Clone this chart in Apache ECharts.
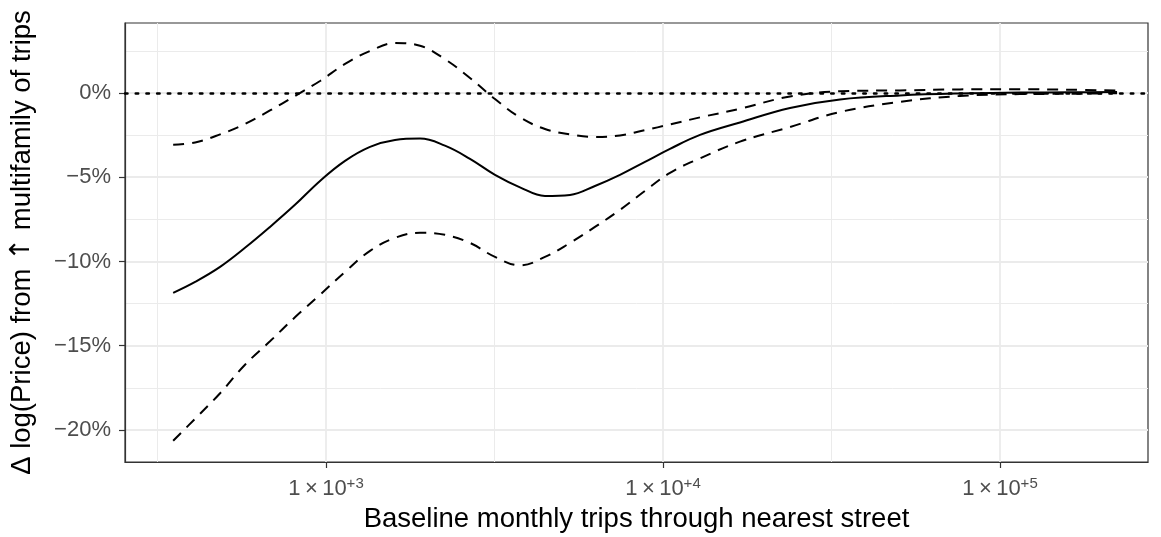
<!DOCTYPE html>
<html lang="en">
<head>
    <meta charset="UTF-8">
    <title>Price effect by baseline trips</title>
    <style>
        html, body { margin: 0; padding: 0; background: #fff; }
        #main { width: 1161px; height: 537px; }
    </style>
</head>
<body>
<div id="main"></div>
<script src="https://cdn.jsdelivr.net/npm/echarts@6.0.0/dist/echarts.min.js"></script>
<script>
    // baseline monthly trips (x, log scale)
    var trips = [352, 409, 485, 575, 682, 809, 960, 1139, 1351, 1602, 1901, 2254, 2675, 3173, 3764,
        4465, 5297, 6283, 7454, 8843, 10490, 12880, 16920, 23820, 33520, 50500, 76080, 114600, 161300, 222500];
    // point estimate, % change
    var estimate = [-11.86, -11.21, -10.32, -9.19, -7.95, -6.64, -5.22, -4.03, -3.20, -2.79, -2.71, -3.13, -3.91, -4.86, -5.60,
        -6.11, -6.05, -5.52, -4.86, -4.09, -3.32, -2.49, -1.75, -0.89, -0.39, -0.15, -0.03, 0.02, 0.04, 0.06];
    // upper band
    var upper = [-3.08, -2.94, -2.46, -1.84, -1.04, -0.18, 0.71, 1.72, 2.49, 2.96, 2.80, 2.00, 0.89, -0.36, -1.45,
        -2.14, -2.46, -2.61, -2.52, -2.21, -1.87, -1.45, -0.94, -0.21, 0.10, 0.15, 0.21, 0.22, 0.19, 0.14];
    // lower band
    var lower = [-20.64, -19.33, -17.82, -16.13, -14.74, -13.31, -11.98, -10.62, -9.37, -8.60, -8.30, -8.42, -8.90, -9.73, -10.23,
        -9.73, -8.90, -7.95, -6.94, -5.81, -4.74, -3.88, -2.89, -2.02, -1.13, -0.53, -0.18, -0.07, -0.05, -0.02];

    var xMajor = [3, 4, 5];
    var xMinor = [2.5, 3.5, 4.5];
    var yMajor = [-20, -15, -10, -5, 0];
    var yMinor = [-17.5, -12.5, -7.5, -2.5, 2.5];

    var xMin = 2.4036, xMax = 5.4392;
    var yMin = -21.90, yMax = 4.15;

    var font = "'Liberation Sans', Arial, Helvetica, sans-serif";

    function toPairs(vals) {
        var out = [];
        for (var i = 0; i < trips.length; i++) {
            out.push([Math.log10(trips[i]), vals[i]]);
        }
        return out;
    }

    function minorAxis(values, pos, lo, hi) {
        return {
            type: 'value', gridIndex: 0, position: pos, min: lo, max: hi,
            axisLine: {show: false},
            axisTick: {show: false, customValues: values},
            axisLabel: {show: false, customValues: values},
            splitLine: {show: true, lineStyle: {color: '#ebebeb', width: 1}}
        };
    }

    function lineSeries(name, vals, dashed) {
        return {
            name: name, type: 'line', xAxisIndex: 0, yAxisIndex: 0,
            data: toPairs(vals), showSymbol: false, smooth: 0.4, silent: true,
            lineStyle: {color: '#000', width: 2, type: dashed ? [11, 8] : 'solid'},
            z: 5
        };
    }

    var chart = echarts.init(document.getElementById('main'), null, {renderer: 'canvas'});

    var estSeries = lineSeries('estimate', estimate, false);
    estSeries.markLine = {
        silent: true, symbol: ['none', 'none'], label: {show: false},
        lineStyle: {color: '#000', width: 2.5, type: [2.5, 8.2], cap: 'round'},
        data: [{yAxis: 0}]
    };

    chart.setOption({
        animation: false,
        textStyle: {fontFamily: font},
        grid: {
            left: 125, right: 13, top: 23, bottom: 75,
            outerBoundsMode: 'none', containLabel: false,
            show: true, borderColor: '#333', borderWidth: 1.2, backgroundColor: 'transparent'
        },
        xAxis: [{
            type: 'value', gridIndex: 0, position: 'bottom', min: xMin, max: xMax,
            name: 'Baseline monthly trips through nearest street',
            nameLocation: 'middle', nameGap: 43,
            nameTextStyle: {fontSize: 27.5, color: '#000', fontFamily: font},
            axisLine: {show: true, onZero: false, lineStyle: {color: '#333', width: 1.2}},
            axisTick: {show: true, length: 6, customValues: xMajor, lineStyle: {color: '#333', width: 1.2}},
            axisLabel: {
                customValues: xMajor, margin: 14, color: '#4d4d4d', fontSize: 22, fontFamily: font,
                formatter: function (v) { return '{b|1\u2009\u00d7\u200910}{s|+' + Math.round(v) + '}'; },
                rich: {
                    b: {fontSize: 22, color: '#4d4d4d', fontFamily: font, verticalAlign: 'bottom'},
                    s: {fontSize: 15, color: '#4d4d4d', fontFamily: font, verticalAlign: 'bottom', padding: [0, 0, 9, 0]}
                }
            },
            splitLine: {show: true, lineStyle: {color: '#ebebeb', width: 1.8}}
        }, minorAxis(xMinor, 'top', xMin, xMax)],
        yAxis: [{
            type: 'value', gridIndex: 0, position: 'left', min: yMin, max: yMax,
            name: '\u0394 log(Price) from {a|\u2191} multifamily of trips',
            nameLocation: 'middle', nameGap: 89, nameRotate: 90,
            nameTextStyle: {
                fontSize: 27.5, color: '#000', fontFamily: font,
                rich: {a: {fontSize: 27.5, color: '#000', fontFamily: "'DejaVu Sans', sans-serif"}}
            },
            axisLine: {show: true, onZero: false, lineStyle: {color: '#333', width: 1.2}},
            axisTick: {show: true, length: 6, customValues: yMajor, lineStyle: {color: '#333', width: 1.2}},
            axisLabel: {
                customValues: yMajor, margin: 14, color: '#4d4d4d', fontSize: 22, fontFamily: font,
                formatter: function (v) {
                    var r = Math.round(v);
                    return (r < 0 ? '\u2212' + Math.abs(r) : r) + '%';
                }
            },
            splitLine: {show: true, lineStyle: {color: '#ebebeb', width: 1.8}}
        }, minorAxis(yMinor, 'right', yMin, yMax)],
        series: [
            estSeries,
            lineSeries('upper', upper, true),
            lineSeries('lower', lower, true)
        ]
    });
</script>
</body>
</html>
